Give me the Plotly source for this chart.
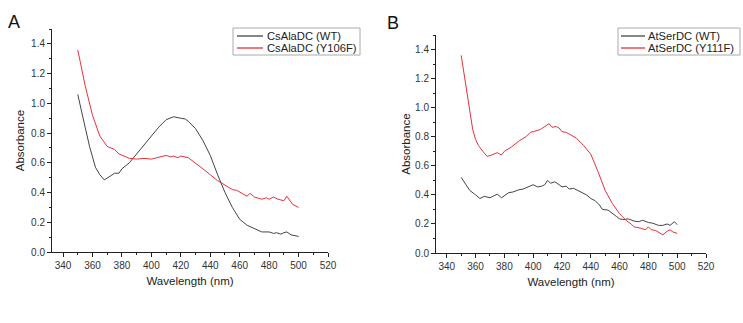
import plotly.graph_objects as go

# Panel A: CsAlaDC
a_wt_x = [350, 352, 355, 358, 360, 362, 365, 368, 372, 375, 378, 380, 385, 390, 395, 400, 405, 410, 415, 420, 423, 425, 430, 435, 440, 445, 450, 455, 460, 465, 470, 475, 480, 483, 485, 488, 490, 492, 495, 497, 500]
a_wt_y = [1.06, 0.98, 0.84, 0.71, 0.63, 0.57, 0.52, 0.485, 0.51, 0.53, 0.53, 0.56, 0.60, 0.66, 0.72, 0.78, 0.84, 0.89, 0.91, 0.90, 0.895, 0.88, 0.83, 0.75, 0.65, 0.52, 0.40, 0.30, 0.22, 0.18, 0.155, 0.135, 0.135, 0.125, 0.13, 0.12, 0.13, 0.135, 0.115, 0.11, 0.105]
a_mut_x = [350, 355, 360, 365, 370, 373, 375, 378, 380, 385, 390, 395, 400, 405, 410, 413, 415, 418, 420, 425, 430, 435, 440, 445, 450, 455, 458, 460, 465, 467, 470, 475, 478, 480, 483, 486, 490, 492, 494, 496, 500]
a_mut_y = [1.36, 1.12, 0.92, 0.78, 0.71, 0.70, 0.69, 0.66, 0.65, 0.63, 0.625, 0.63, 0.625, 0.635, 0.65, 0.64, 0.645, 0.635, 0.645, 0.635, 0.60, 0.56, 0.52, 0.48, 0.45, 0.42, 0.415, 0.405, 0.375, 0.395, 0.37, 0.355, 0.365, 0.355, 0.37, 0.355, 0.345, 0.375, 0.345, 0.32, 0.30]

# Panel B: AtSerDC
b_wt_x = [350, 353, 356, 360, 363, 366, 368, 370, 372, 375, 378, 380, 383, 386, 390, 393, 397, 400, 403, 406, 408, 410, 412, 415, 418, 420, 423, 425, 428, 430, 433, 437, 440, 443, 446, 448, 452, 455, 458, 460, 463, 466, 470, 473, 476, 480, 483, 487, 490, 493, 495, 498, 500]
b_wt_y = [0.52, 0.47, 0.43, 0.40, 0.375, 0.39, 0.385, 0.38, 0.39, 0.405, 0.38, 0.395, 0.415, 0.42, 0.435, 0.44, 0.46, 0.47, 0.455, 0.46, 0.47, 0.50, 0.48, 0.49, 0.47, 0.455, 0.46, 0.44, 0.445, 0.435, 0.42, 0.40, 0.375, 0.36, 0.33, 0.30, 0.295, 0.275, 0.25, 0.235, 0.23, 0.235, 0.22, 0.215, 0.225, 0.21, 0.205, 0.19, 0.19, 0.20, 0.19, 0.215, 0.195]
b_mut_x = [350, 355, 358, 360, 362, 365, 368, 370, 373, 375, 378, 380, 385, 390, 395, 398, 400, 405, 408, 411, 413, 416, 418, 420, 423, 425, 430, 435, 440, 445, 450, 455, 460, 463, 465, 468, 470, 475, 478, 480, 482, 485, 488, 490, 493, 495, 497, 500]
b_mut_y = [1.36, 1.05, 0.85, 0.78, 0.74, 0.70, 0.665, 0.67, 0.685, 0.69, 0.675, 0.70, 0.73, 0.77, 0.80, 0.83, 0.835, 0.85, 0.87, 0.89, 0.865, 0.87, 0.86, 0.835, 0.83, 0.82, 0.79, 0.74, 0.68, 0.56, 0.43, 0.34, 0.27, 0.24, 0.22, 0.20, 0.18, 0.17, 0.16, 0.18, 0.16, 0.155, 0.14, 0.125, 0.15, 0.16, 0.145, 0.135]

names_a = ["CsAlaDC (WT)", "CsAlaDC (Y106F)"]
names_b = ["AtSerDC (WT)", "AtSerDC (Y111F)"]

BLACK = "#444444"
RED = "#e5323c"
FONT = "Liberation Sans, Arial, sans-serif"
W, H = 743, 323

fig = go.Figure()
fig.add_trace(go.Scatter(x=a_wt_x, y=a_wt_y, mode="lines", name=names_a[0], showlegend=False,
                         line=dict(color=BLACK, width=1), xaxis="x", yaxis="y"))
fig.add_trace(go.Scatter(x=a_mut_x, y=a_mut_y, mode="lines", name=names_a[1], showlegend=False,
                         line=dict(color=RED, width=1), xaxis="x", yaxis="y"))
fig.add_trace(go.Scatter(x=b_wt_x, y=b_wt_y, mode="lines", name=names_b[0], showlegend=False,
                         line=dict(color=BLACK, width=1), xaxis="x2", yaxis="y2"))
fig.add_trace(go.Scatter(x=b_mut_x, y=b_mut_y, mode="lines", name=names_b[1], showlegend=False,
                         line=dict(color=RED, width=1), xaxis="x2", yaxis="y2"))

def xax(domain, anchor):
    return dict(domain=domain, anchor=anchor, range=[332.5, 520], tickmode="array",
                tickvals=[340, 360, 380, 400, 420, 440, 460, 480, 500, 520],
                ticks="outside", ticklen=4, tickwidth=1, tickcolor="#222", automargin=False,
                showline=True, linecolor="#222", linewidth=1, showgrid=False, zeroline=False,
                minor=dict(ticks="outside", ticklen=2, tickcolor="#222", dtick=10, tick0=340, showgrid=False),
                tickfont=dict(size=10, color="#333", family=FONT),
                title=dict(text="Wavelength (nm)", font=dict(size=11.5, color="#222", family=FONT), standoff=6))

def yax(domain, anchor, standoff):
    return dict(domain=domain, anchor=anchor, range=[0, 1.5], tickmode="array",
                tickvals=[0, 0.2, 0.4, 0.6, 0.8, 1.0, 1.2, 1.4], tickformat=".1f",
                ticks="outside", ticklen=4, tickwidth=1, tickcolor="#222", automargin=False,
                showline=True, linecolor="#222", linewidth=1, showgrid=False, zeroline=False,
                minor=dict(ticks="outside", ticklen=2, tickcolor="#222", dtick=0.1, tick0=0, showgrid=False),
                tickfont=dict(size=10, color="#333", family=FONT),
                title=dict(text="Absorbance", font=dict(size=11.5, color="#222", family=FONT), standoff=standoff))

def px(x):
    return x / W

def py(y):
    return 1 - y / H

shapes = []
annotations = []

def add_legend(box, line_x, text_x, rows, names, colors):
    x0, x1, y0, y1 = box
    shapes.append(dict(type="rect", xref="paper", yref="paper", x0=px(x0), x1=px(x1), y0=py(y1), y1=py(y0),
                       line=dict(color="#aaa", width=1), fillcolor="white", layer="above"))
    for ry, name, col in zip(rows, names, colors):
        shapes.append(dict(type="line", xref="paper", yref="paper", x0=px(line_x[0]), x1=px(line_x[1]),
                           y0=py(ry), y1=py(ry), line=dict(color=col, width=1.3), layer="above"))
        annotations.append(dict(text=name, x=px(text_x), y=py(ry), xref="paper", yref="paper", showarrow=False,
                                xanchor="left", yanchor="middle",
                                font=dict(size=11.2, color="#222", family=FONT)))

add_legend((233, 360, 28, 55), (237, 263), 265, (36, 48), names_a, [BLACK, RED])
add_legend((618, 740, 28, 55), (621, 645), 646, (36, 48), names_b, [BLACK, RED])

annotations.append(dict(text="A", x=px(14), y=py(22), xref="paper", yref="paper", showarrow=False,
                        font=dict(size=18, color="#111", family=FONT), xanchor="center", yanchor="middle"))
annotations.append(dict(text="B", x=px(393), y=py(23), xref="paper", yref="paper", showarrow=False,
                        font=dict(size=18, color="#111", family=FONT), xanchor="center", yanchor="middle"))

fig.update_layout(
    width=W, height=H,
    margin=dict(l=0, r=0, t=0, b=0),
    paper_bgcolor="white", plot_bgcolor="white",
    showlegend=False,
    xaxis=xax([0.070, 0.4415], "y"),
    yaxis=yax([0.2198, 0.910], "x", 4),
    xaxis2=xax([0.5868, 0.9502], "y2"),
    yaxis2=yax([0.2167, 0.8916], "x2", 2),
    shapes=shapes,
    annotations=annotations,
)

fig.write_html("out.html", config={"displayModeBar": False},
               post_script="document.body.style.margin='0';document.body.style.padding='0';")
